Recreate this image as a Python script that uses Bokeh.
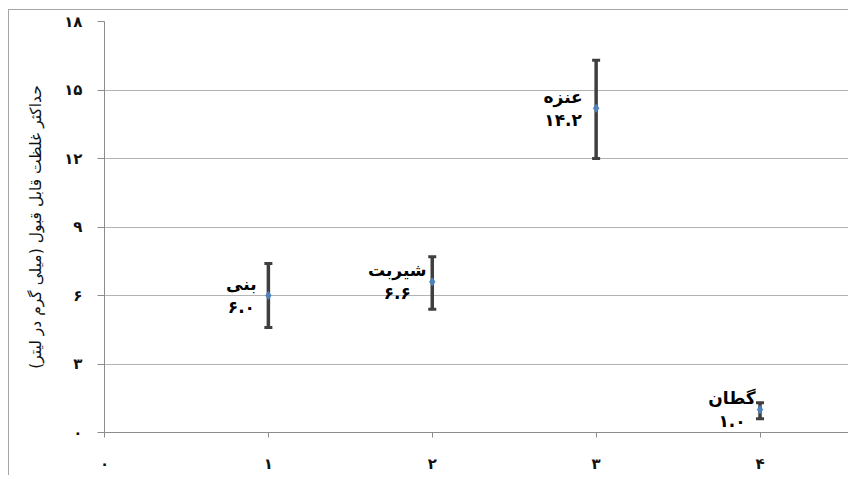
from bokeh.plotting import figure
from bokeh.models import ColumnDataSource, Whisker, TeeHead, FixedTicker, Range1d
from bokeh.core.properties import value
from bokeh.embed import file_html
from bokeh.resources import INLINE

# data
names = ["بنی", "شیربت", "عنزه", "گطان"]
xs = [1, 2, 3, 4]
means = [6.0, 6.6, 14.2, 1.0]
lowers = [4.6, 5.4, 12.0, 0.6]
uppers = [7.4, 7.7, 16.3, 1.3]
value_texts = ["۶.۰", "۶.۶", "۱۴.۲", "۱.۰"]
x_ticks = [0, 1, 2, 3, 4]
x_tick_labels = ["۰", "۱", "۲", "۳", "۴"]
y_ticks = [0, 3, 6, 9, 12, 15, 18]
y_tick_labels = ["۰", "۳", "۶", "۹", "۱۲", "۱۵", "۱۸"]
y_title = "حداکثر غلظت قابل قبول (میلی گرم در لیتر)\u200f"

# label horizontal offsets (px), roughly half label width + gap
label_dx = [-27, -35, -33, -28]

src = ColumnDataSource(dict(
    x=xs, y=means, lower=lowers, upper=uppers,
    label=[n + "\n" + v for n, v in zip(names, value_texts)],
    dx=label_dx,
))

frame_css = ("linear-gradient(#a6a6a6,#a6a6a6) 8px 9px / 100% 1px no-repeat, "
             "linear-gradient(#a6a6a6,#a6a6a6) 8px 9px / 1px 100% no-repeat, white")

p = figure(width=848, height=475, output_backend="svg", toolbar_location=None,
           x_range=Range1d(0, 4.54), y_range=Range1d(0, 18),
           min_border_left=104, min_border_right=0, min_border_top=21,
           min_border_bottom=43, background_fill_color="white",
           border_fill_color="white", border_fill_alpha=0,
           outline_line_color=None, styles={"background": frame_css})

p.xgrid.grid_line_color = None
p.ygrid.grid_line_color = "#b3b3b3"
p.ygrid.grid_line_width = 1

for ax in (p.xaxis[0], p.yaxis[0]):
    ax.axis_line_color = "#8c8c8c"
    ax.major_tick_line_color = "#8c8c8c"
    ax.minor_tick_line_color = None
    ax.major_tick_in = 0
    ax.major_label_text_font = "DejaVu Sans"
    ax.major_label_text_font_style = "bold"
    ax.major_label_text_font_size = "15px"
    ax.major_label_text_color = "#111111"

p.xaxis.ticker = FixedTicker(ticks=x_ticks)
p.xaxis.major_label_overrides = {t: l for t, l in zip(x_ticks, x_tick_labels)}
p.xaxis.major_tick_out = 5
p.xaxis.major_label_standoff = 17

p.yaxis.ticker = FixedTicker(ticks=y_ticks)
p.yaxis.major_label_overrides = {t: l for t, l in zip(y_ticks, y_tick_labels)}
p.yaxis.major_tick_out = 7
p.yaxis.major_label_standoff = 15
p.yaxis.axis_label = y_title
p.yaxis.axis_label_text_font = "DejaVu Sans"
p.yaxis.axis_label_text_font_style = "normal"
p.yaxis.axis_label_text_font_size = "15.5px"
p.yaxis.axis_label_text_color = "#111111"
p.yaxis.axis_label_standoff = 16

w = Whisker(source=src, base="x", lower="lower", upper="upper",
            line_color="#3f3f3f", line_width=3.5,
            upper_head=TeeHead(size=8, line_color="#3f3f3f", line_width=3),
            lower_head=TeeHead(size=8, line_color="#3f3f3f", line_width=3))
p.add_layout(w)

p.scatter("x", "y", source=src, marker="diamond", size=8,
          fill_color="#4f81bd", line_color="#4f81bd")

p.text("x", "y", text="label", source=src, x_offset="dx",
       text_align="center", text_baseline="middle",
       text_font=value("DejaVu Sans"), text_font_style="bold",
       text_font_size="17px", text_color="#000000", text_line_height=1.15)

open("out.html", "w").write(file_html(p, INLINE))
